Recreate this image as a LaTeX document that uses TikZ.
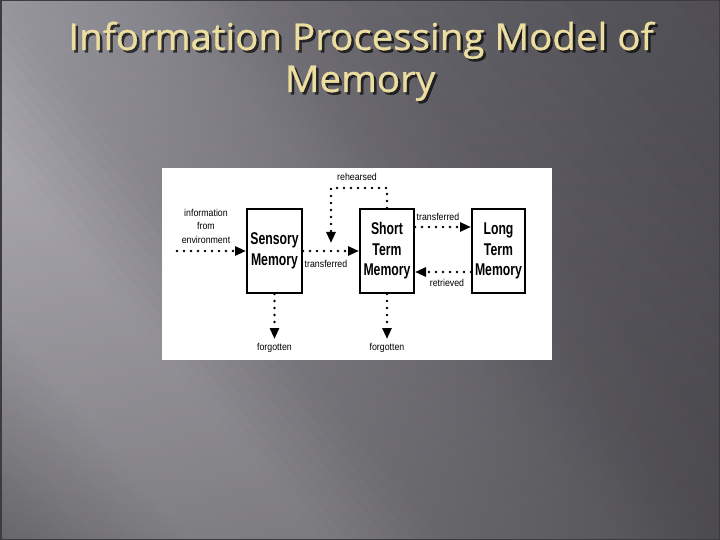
\documentclass[tikz,border=0pt]{standalone}
\usepackage{fontspec}
\setmainfont{Liberation Sans}
\newfontfamily\titlefont[FakeBold=0.8,FakeStretch=1.04]{Open Sans}
\newfontfamily\boxfont[FakeStretch=0.72]{Liberation Sans}
\newfontfamily\labfont[FakeStretch=0.88]{Liberation Sans}
\usetikzlibrary{arrows.meta,fadings}
\definecolor{s1}{RGB}{140,138,145}
\definecolor{s2}{RGB}{150,148,155}
\definecolor{s3}{RGB}{172,170,177}
\definecolor{s4}{RGB}{190,188,195}
\definecolor{s5}{RGB}{186,184,191}
\definecolor{s6}{RGB}{152,150,157}
\definecolor{s7}{RGB}{143,141,148}
\definecolor{s8}{RGB}{132,130,137}
\definecolor{s9}{RGB}{114,112,119}
\definecolor{s10}{RGB}{104,102,109}
\definecolor{s11}{RGB}{89,87,94}
\definecolor{s12}{RGB}{76,75,80}
\definecolor{titlecol}{RGB}{236,222,160}
\definecolor{framecol}{HTML}{3C3B40}
\tikzfading[name=vdark, top color=transparent!100, bottom color=transparent!67]
\tikzset{
  titletext/.style={font=\titlefont\fontsize{37}{44}\selectfont, text=titlecol, anchor=base, inner sep=0pt},
  titleshadow/.style={font=\titlefont\fontsize{37}{44}\selectfont, text=black, text opacity=0.65, anchor=base, inner sep=0pt},
  mem/.style={draw=black, line width=2pt, fill=white, minimum height=84pt, inner sep=0pt, align=center,
    font=\boxfont\bfseries\fontsize{17}{20.5}\selectfont},
  lab/.style={font=\labfont\fontsize{10}{13.5}\selectfont, inner sep=0pt, align=center},
  dotarrow/.style={line width=2.8pt, dash pattern=on 0pt off 7pt, line cap=round,
    -{Triangle[length=11pt,width=9pt]}}
}
\begin{document}
\begin{tikzpicture}[x=1pt,y=-1pt]
\useasboundingbox (0,0) rectangle (720,540);
% background: strips across a diagonal axis
\begin{scope}
  \clip (0,0) rectangle (720,540);
  \foreach \a/\b/\ca/\cb in {-400/-360/s1/s2, -360/-280/s2/s3, -280/-200/s3/s4, -200/-100/s4/s5,
      -100/0/s5/s6, 0/70/s6/s7, 70/130/s7/s8, 130/200/s8/s9, 200/270/s9/s10, 270/430/s10/s11, 430/600/s11/s12} {
    \foreach \k in {0,...,9} {
      \pgfmathsetmacro\xa{\a+(\b-\a)*\k/10}
      \pgfmathsetmacro\xb{\a+(\b-\a)*(\k+1)/10+0.8}
      \pgfmathtruncatemacro\mix{95-\k*10}
      \fill[color=\ca!\mix!\cb]
        ({\xa*0.766-60*0.643},{-\xa*0.643-60*0.766}) --
        ({\xb*0.766-60*0.643},{-\xb*0.643-60*0.766}) --
        ({\xb*0.766+960*0.643},{-\xb*0.643+960*0.766}) --
        ({\xa*0.766+960*0.643},{-\xa*0.643+960*0.766}) -- cycle;
    }
  }
  \fill[black, path fading=vdark] (0,0) rectangle (720,540);
\end{scope}
\draw[framecol, line width=1.5pt] (0.75,0.75) rectangle (719.25,539.25);
% title
\node[titleshadow] at (363.5,52.5) {Information Processing Model of};
\node[titletext] (title1) at (361,50) {Information Processing Model of};
\node[titleshadow] at (362.5,94.5) {Memory};
\node[titletext] (title2) at (360,92) {Memory};
% panel
\node[fill=white, inner sep=0pt, minimum width=390pt, minimum height=192pt] (panel) at (357,264) {};
% boxes
\node[mem, minimum width=55pt] (sens) at (274.5,251) {Sensory\\Memory};
\node[mem, minimum width=54pt] (stm) at (387,251) {Short\\Term\\Memory};
\node[mem, minimum width=53pt] (ltm) at (498.5,251) {Long\\Term\\Memory};
% coordinates
\coordinate (infoin) at (177,251);
\coordinate (rehtop) at (331,188);
\coordinate (rehend) at (331,243);
\coordinate (f1) at (274.5,339);
\coordinate (f2) at (387,339);
% connectors
\draw[dotarrow] (infoin) -- (sens.west);
\draw[dotarrow] (sens.east) -- (stm.west);
\draw[dotarrow] ([yshift=24pt]stm.east) -- ([yshift=24pt]ltm.west);
\draw[dotarrow] ([yshift=-21pt]ltm.west) -- ([yshift=-21pt]stm.east);
\draw[dotarrow] (stm.north) |- (rehtop) -- (rehend);
\draw[dotarrow] (sens.south) -- (f1);
\draw[dotarrow] (stm.south) -- (f2);
% labels
\node[lab] (infolab) at (206,226) {information\\from\\environment};
\node[lab] (reh) at (357,177) {rehearsed};
\node[lab] (tr1) at (326,264) {transferred};
\node[lab] (tr2) at (438,217) {transferred};
\node[lab] (ret) at (447,283) {retrieved};
\node[lab] (fg1) at (274.5,348) {forgotten};
\node[lab] (fg2) at (387,348) {forgotten};
\end{tikzpicture}
\end{document}
